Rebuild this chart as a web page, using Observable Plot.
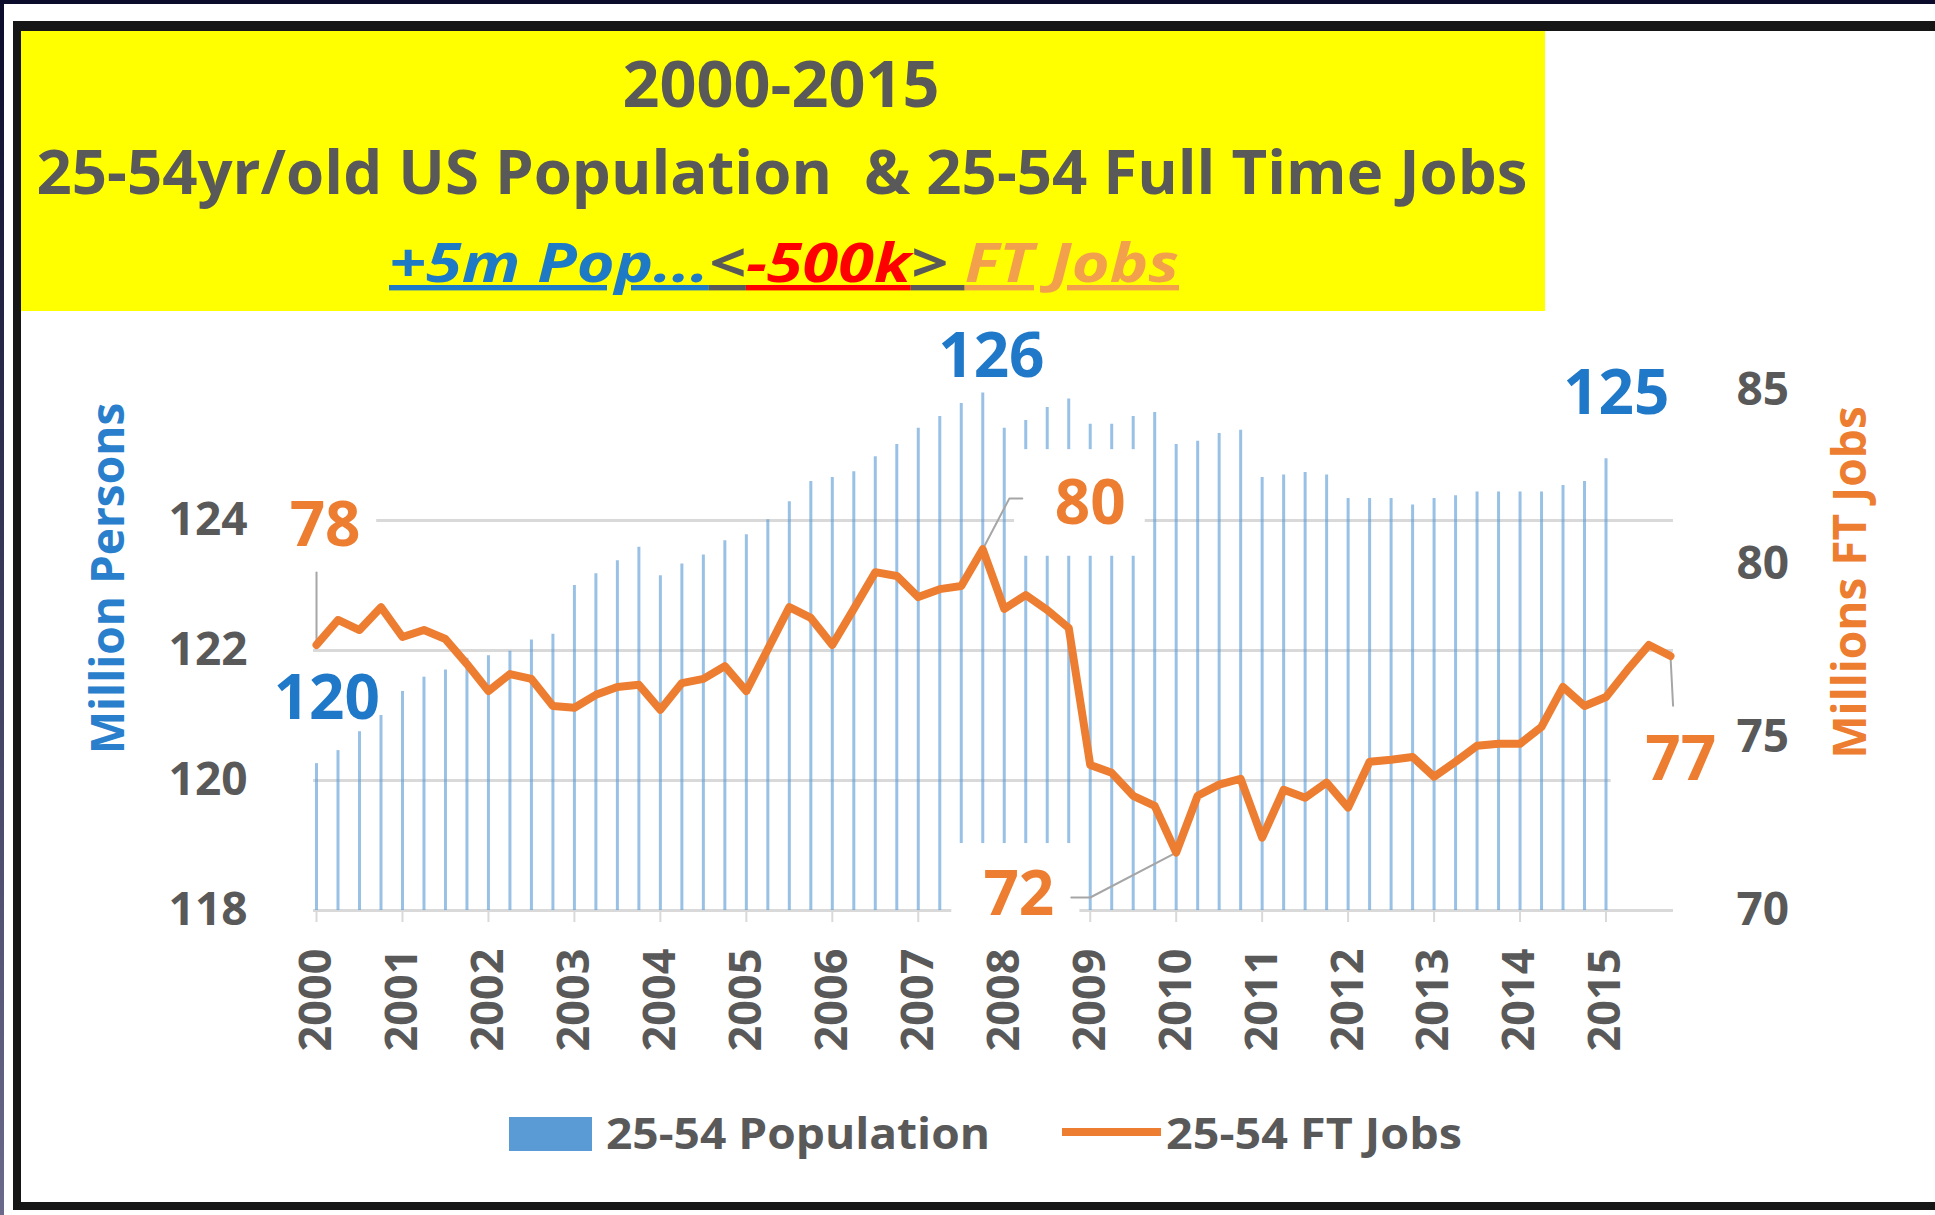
<!DOCTYPE html>
<html>
<head>
<meta charset="utf-8">
<script src="https://cdn.jsdelivr.net/npm/d3@7"></script>
<script src="https://cdn.jsdelivr.net/npm/@observablehq/plot@0.6"></script>
<style>
html,body{margin:0;padding:0;background:#fff;width:1935px;height:1215px;overflow:hidden;position:relative;font-family:"Open Sans",sans-serif;}
#topband{position:absolute;left:0;top:0;width:1935px;height:4px;background:#0b0b2b;}
#leftband{position:absolute;left:0;top:0;width:4px;height:1215px;background:linear-gradient(#0b0b2b,#6b6a8a);}
#frame{position:absolute;left:13px;top:21px;width:1960px;height:1171px;border-left:8px solid #161616;border-top:10px solid #161616;border-bottom:8px solid #161616;}
#title{position:absolute;left:21px;top:31px;width:1524px;height:280px;background:#ffff00;}
#plot{position:absolute;left:0;top:311px;}
#legend{position:absolute;left:0;top:1097px;}
svg text{font-family:"Open Sans",sans-serif;}
</style>
</head>
<body>
<div id="topband"></div>
<div id="leftband"></div>
<div id="frame"></div>
<div id="title">
<svg width="1524" height="280">
  <text x="760" y="76" text-anchor="middle" font-size="65" font-weight="700" fill="#595959" textLength="317" lengthAdjust="spacingAndGlyphs">2000-2015</text>
  <text x="761" y="163" text-anchor="middle" font-size="60" font-weight="700" fill="#595959" textLength="1491" lengthAdjust="spacingAndGlyphs" style="white-space:pre">25-54yr/old US Population  &amp; 25-54 Full Time Jobs</text>
  <text x="763" y="251" text-anchor="middle" font-size="54" font-weight="700" font-style="italic" textLength="790" lengthAdjust="spacingAndGlyphs"><tspan fill="#1f7ac6" style="text-decoration:underline;text-decoration-thickness:5px">+5m Pop...</tspan><tspan fill="#595959" style="text-decoration:underline;text-decoration-thickness:5px">&lt;</tspan><tspan fill="#ff0000" style="text-decoration:underline;text-decoration-thickness:5px">-500k</tspan><tspan fill="#595959" style="text-decoration:underline;text-decoration-thickness:5px">&gt; </tspan><tspan fill="#f2a04c" style="text-decoration:underline;text-decoration-thickness:5px">FT Jobs</tspan></text>
</svg>
</div>
<div id="plot"></div>
<div id="legend">
<svg width="1935" height="100">
  <rect x="509" y="20" width="83" height="34" fill="#5b9bd5"></rect>
  <text x="606" y="52" font-size="43" font-weight="700" fill="#595959" textLength="384" lengthAdjust="spacingAndGlyphs">25-54 Population</text>
  <line x1="1062" x2="1161" y1="35" y2="35" stroke="#ed7d31" stroke-width="8"></line>
  <text x="1166" y="52" font-size="43" font-weight="700" fill="#595959" textLength="296" lengthAdjust="spacingAndGlyphs">25-54 FT Jobs</text>
</svg>
</div>
<script>
// ---- data (quarterly, starting 2000 Q1) ----
const startYear = 2000;
const popValues = [
  120.26,120.46,120.75,121.00, 121.37,121.59,121.70,121.88,
  121.92,121.99,122.16,122.25, 123.00,123.18,123.38,123.59,
  123.15,123.33,123.47,123.69, 123.78,124.01,124.29,124.60,
  124.66,124.75,124.98,125.17, 125.42,125.60,125.80,125.96,
  125.42,125.54,125.74,125.87, 125.48,125.48,125.60,125.66,
  125.17,125.22,125.34,125.39, 124.66,124.70,124.74,124.70,
  124.34,124.34,124.34,124.24, 124.34,124.38,124.44,124.44,
  124.44,124.44,124.54,124.60, 124.95
];
const jobValues = [
  77.66,78.38,78.09,78.75, 77.89,78.09,77.83,77.11,
  76.33,76.82,76.68,75.90, 75.85,76.22,76.45,76.51,
  75.79,76.56,76.68,77.05, 76.33,77.54,78.75,78.44,
  77.66,78.70,79.76,79.65, 79.04,79.27,79.36,80.42,
  78.70,79.10,78.67,78.15, 74.20,73.97,73.31,73.02,
  71.67,73.31,73.63,73.80, 72.10,73.48,73.25,73.69,
  72.97,74.29,74.35,74.43, 73.86,74.29,74.75,74.81,
  74.81,75.30,76.45,75.90, 76.16,76.94,77.66,77.34
];
const yearTicks = [2000,2001,2002,2003,2004,2005,2006,2007,2008,2009,2010,2011,2012,2013,2014,2015];
const leftTicks = [118,120,122,124];
const rightTicks = [70,75,80,85];
const leftDomain = [118,126];
const rightDomain = [70,85];

// annotation layout (data units): label index, label position, label box
const popLabels = [
  {idx:0,  x:2000.12, y:121.25},
  {idx:31, x:2007.85, y:126.51},
  {idx:60, x:2015.12, y:125.95}
];
const jobLabels = [
  {idx:0,  x:2000.10, y:123.92, box:[1999.6,2000.70,123.15,124.5], leader:[[0,123.2]]},
  {idx:31, x:2009.00, y:124.25, box:[2008.12,2009.64,123.45,125.09], leader:[[0.31,124.34],[0.46,124.34]]},
  {idx:40, x:2008.17, y:118.23, box:[2007.39,2008.88,117.6,119.03], leader:[[-1.0,118.2],[-1.22,118.2]]},
  {idx:63, x:2015.87, y:120.32, box:[2015.06,2016.3,119.6,121.0], leader:[[0.03,121.15]]}
];

// ---- derived tables ----
const qx = i => startYear + i / 4;
const toLeft = v => leftDomain[0] + (v - rightDomain[0]) * (leftDomain[1]-leftDomain[0]) / (rightDomain[1]-rightDomain[0]);
const fromLeft = v => rightDomain[0] + (v - leftDomain[0]) * (rightDomain[1]-rightDomain[0]) / (leftDomain[1]-leftDomain[0]);
const pop = popValues.map((v,i) => ({t: qx(i), v}));
const jobs = jobValues.map((v,i) => ({t: qx(i), v, y: toLeft(v)}));
const popText = popLabels.map(d => ({x:d.x, y:d.y, text:String(Math.round(popValues[d.idx]))}));
const jobText = jobLabels.map(d => ({x:d.x, y:d.y, text:String(Math.round(jobValues[d.idx]))}));
const boxes = jobLabels.map(d => ({x1:d.box[0], x2:d.box[1], y1:d.box[2], y2:d.box[3]}));
const leaders = [];
jobLabels.forEach((d,k) => {
  const px = qx(d.idx), py = toLeft(jobValues[d.idx]);
  leaders.push({k, x:px, y:py});
  d.leader.forEach(p => leaders.push({k, x:px + p[0], y:p[1]}));
});

const blue = "#1f78c8";
const orange = "#ed7d31";
const gray = "#595959";

const chart = Plot.plot({
  width: 1935,
  height: 790,
  marginLeft: 313,
  marginRight: 262,
  marginTop: 79,
  marginBottom: 191,
  x: {domain: [1999.965, 2015.785], axis: null},
  y: {domain: leftDomain, axis: null},
  style: {fontFamily: "Open Sans", background: "transparent", overflow: "visible"},
  marks: [
    Plot.ruleY([120,122,124], {stroke: "#d9d9d9", strokeWidth: 3}),
    Plot.ruleY([118], {stroke: "#d9d9d9", strokeWidth: 3}),
    Plot.axisX({ticks: yearTicks, tickFormat: d => String(d), tickRotate: -90, tickSize: 12, tickPadding: 26,
      stroke: "#d9d9d9", strokeWidth: 2, fill: gray, fontSize: 45, fontWeight: 700, label: null}),
    Plot.ruleX(pop, {x: "t", y1: 118, y2: "v", stroke: "#5b9bd5", strokeOpacity: 0.62, strokeWidth: 3}),
    Plot.rect(boxes, {x1: "x1", x2: "x2", y1: "y1", y2: "y2", fill: "white"}),
    Plot.axisY({anchor: "left", ticks: leftTicks, tickSize: 0, tickPadding: 66, fill: gray, fontSize: 46, fontWeight: 700, label: null}),
    Plot.axisY({anchor: "right", ticks: rightTicks.map(toLeft), tickFormat: v => String(Math.round(fromLeft(v))),
      tickSize: 0, tickPadding: 63, fill: gray, fontSize: 46, fontWeight: 700, label: null}),
    Plot.line(leaders, {x: "x", y: "y", z: "k", stroke: "#a6a6a6", strokeWidth: 2}),
    Plot.line(jobs, {x: "t", y: "y", stroke: orange, strokeWidth: 8, strokeLinejoin: "round", strokeLinecap: "round"}),
    Plot.text(popText, {x: "x", y: "y", text: "text", fill: blue, fontSize: 62, fontWeight: 700}),
    Plot.text(jobText, {x: "x", y: "y", text: "text", fill: orange, fontSize: 62, fontWeight: 700}),
    Plot.text(["Million Persons"], {frameAnchor: "left", textAnchor: "middle", dx: -204, dy: -72, rotate: -90, fill: "#2a7fcc", fontSize: 46, fontWeight: 700}),
    Plot.text(["Millions FT Jobs"], {frameAnchor: "right", textAnchor: "middle", dx: 178, dy: -68, rotate: -90, fill: orange, fontSize: 46, fontWeight: 700})
  ]
});
document.getElementById("plot").appendChild(chart);
</script>
</body>
</html>
